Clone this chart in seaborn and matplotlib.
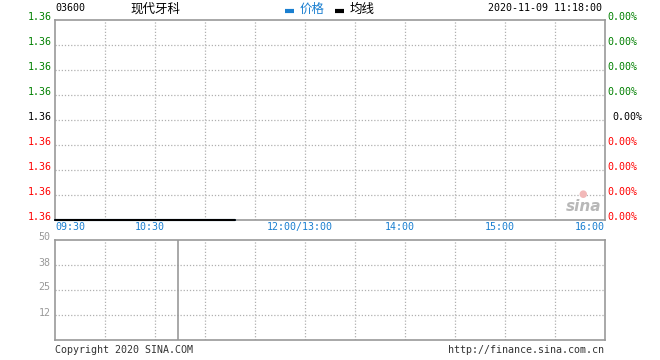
import matplotlib
matplotlib.use("Agg")
import matplotlib.pyplot as plt
import matplotlib.transforms as mtransforms
import seaborn as sns
import pandas as pd

# ---- data ----
stock_code = "03600"
stock_name = "现代牙科"
timestamp = "2020-11-09 11:18:00"
price_times = ["09:30", "11:18"]
price_values = [1.36, 1.36]
avg_values = [1.36, 1.36]
vol_times = ["10:44"]
vol_values = [50]
price_tick_labels = ["1.36"] * 9
pct_tick_labels = ["0.00%"] * 9
time_tick_labels = ["09:30", "10:30", "12:00/13:00", "14:00", "15:00", "16:00"]
vol_tick_labels = ["12", "25", "38", "50"]
vol_tick_values = [12.5, 25, 37.5, 50]


def to_idx(t):
    h, m = map(int, t.split("/")[0].split(":"))
    mins = h * 60 + m
    if mins <= 12 * 60:
        return mins - (9 * 60 + 30)
    return mins - 13 * 60 + 150


sns.set_theme(style="white")
plt.rcParams["font.family"] = ["DejaVu Sans Mono", "Noto Sans CJK SC"]

W, H = 660, 360
fig = plt.figure(figsize=(W / 100, H / 100), dpi=100)


def rect(x0, y0, x1, y1):
    return [x0 / W, 1 - y1 / H, (x1 - x0) / W, (y1 - y0) / H]


ax = fig.add_axes(rect(55, 20, 605, 220))
axv = fig.add_axes(rect(55, 240, 605, 340))

grey = "#999999"
gridc = "#b0b0b0"
blue = "#1a7fd0"
fs = 7.2
up = mtransforms.ScaledTranslation(0, 3 / 100, fig.dpi_scale_trans)

df = pd.DataFrame({"t": [to_idx(t) for t in price_times],
                   "price": price_values, "avg": avg_values})
lo = 1.36
step = 0.0001
ax.set_xlim(0, 330)
ax.set_ylim(lo, lo + 8 * step)
sns.lineplot(data=df, x="t", y="price", ax=ax, color=blue, lw=1.5, zorder=5, clip_on=False)
sns.lineplot(data=df, x="t", y="avg", ax=ax, color="black", lw=1.5, zorder=6, clip_on=False)

xt = [0, 60, 150, 210, 270, 330]
for a in (ax, axv):
    a.set_xlim(0, 330)
    for sp in a.spines.values():
        sp.set_color(grey)
        sp.set_linewidth(1.2)
    for x in range(30, 330, 30):
        a.axvline(x, color=gridc, lw=0.9, ls=(0, (1, 1.5)), zorder=0)
    a.set_xticks([])
    a.set_yticks([])
    a.set_xlabel("")
    a.set_ylabel("")

for k in range(1, 8):
    ax.axhline(lo + k * step, color=gridc, lw=0.9, ls=(0, (1, 1.5)), zorder=0)

# left price labels / right percent labels
yb = mtransforms.blended_transform_factory(ax.transAxes, ax.transData) + up
for k, lab in enumerate(price_tick_labels):
    yv = lo + (8 - k) * step
    c = "green" if k < 4 else ("black" if k == 4 else "red")
    ax.text(-0.006, yv, lab, transform=yb, ha="right", va="center", color=c, fontsize=fs, clip_on=False)
    dx = 1.013 if k == 4 else 1.004
    ax.text(dx, yv, pct_tick_labels[k], transform=yb, ha="left", va="center", color=c, fontsize=fs, clip_on=False)

# time labels
tb = mtransforms.blended_transform_factory(ax.transData, ax.transAxes)
for x, lab in zip(xt, time_tick_labels):
    if x == 0:
        ha, off = "left", 0
    elif x == 330:
        ha, off = "right", 0
    else:
        ha, off = "center", -5.5
    tr = tb + mtransforms.ScaledTranslation(off / 100, 0, fig.dpi_scale_trans)
    ax.text(x, -0.036, lab, transform=tr, ha=ha, va="center", color=blue, fontsize=fs)

# volume
axv.set_ylim(0, 50)
for v in vol_tick_values[:-1]:
    axv.axhline(v, color=gridc, lw=0.9, ls=(0, (1, 1.5)), zorder=0)
axv.vlines([to_idx(t) for t in vol_times], 0, vol_values, color=grey, lw=1.2)
vb = mtransforms.blended_transform_factory(axv.transAxes, axv.transData) + \
    mtransforms.ScaledTranslation(0, 2.5 / 100, fig.dpi_scale_trans)
for v, lab in zip(vol_tick_values, vol_tick_labels):
    axv.text(-0.008, v, lab, transform=vb, ha="right", va="center", color=grey, fontsize=fs)

# header
fig.text(55 / W, 1 - 8 / H, stock_code, ha="left", va="center", fontsize=fs, color="black")
fig.text(130 / W, 1 - 9 / H, stock_name, ha="left", va="center", fontsize=9, color="black")
fig.add_artist(plt.Line2D([285 / W, 294 / W], [1 - 11 / H] * 2, color=blue, lw=3, solid_capstyle="butt"))
fig.text(300 / W, 1 - 9 / H, "价格", ha="left", va="center", fontsize=9, color=blue)
fig.add_artist(plt.Line2D([335 / W, 344 / W], [1 - 11 / H] * 2, color="black", lw=3, solid_capstyle="butt"))
fig.text(350 / W, 1 - 9 / H, "均线", ha="left", va="center", fontsize=9, color="black")
fig.text(602 / W, 1 - 8 / H, timestamp, ha="right", va="center", fontsize=fs, color="black")

# footer
fig.text(55 / W, 1 - 350 / H, "Copyright 2020 SINA.COM", ha="left", va="center", fontsize=fs, color="#333333")
fig.text(604 / W, 1 - 350 / H, "http://finance.sina.com.cn", ha="right", va="center", fontsize=fs, color="#333333")

# watermark
fig.text(584 / W, 1 - 207 / H, "sina", ha="center", va="center", fontsize=11, color="#b8b8b8",
         style="italic", weight="bold", family="DejaVu Sans")
fig.text(583 / W, 1 - 194 / H, "●", ha="center", va="center", fontsize=7, color="#f2b8b8",
         family="DejaVu Sans")

fig.savefig("out.png", dpi=100)
